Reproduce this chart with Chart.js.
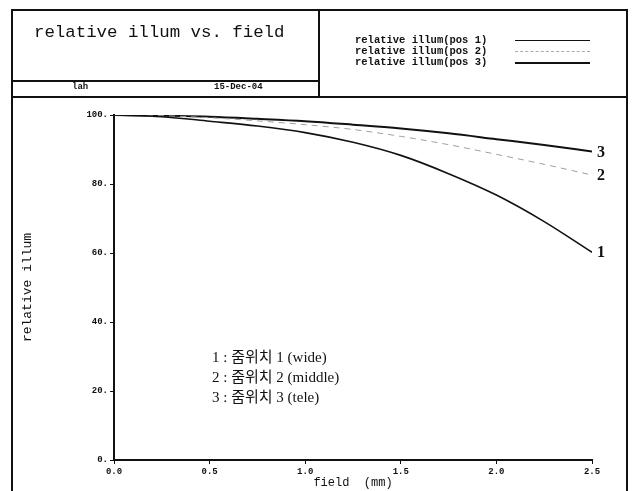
<!DOCTYPE html>
<html>
<head>
<meta charset="utf-8">
<script src="https://cdn.jsdelivr.net/npm/chart.js@4.4.1/dist/chart.umd.min.js"></script>
<style>
  html, body { margin:0; padding:0; background:#fff; }
  #wrap { position:relative; width:632px; height:491px; overflow:hidden; background:#fff; }
  #c { position:absolute; left:0; top:0; }
  .ln { position:absolute; background:#111; }
  .t { position:absolute; white-space:pre; color:#111; line-height:1; }
  .mono { font-family:"Liberation Mono","DejaVu Sans Mono",monospace; }
  .bold { font-weight:bold; }
  .serif { font-family:"Liberation Serif","Noto Sans CJK KR",serif; }
  .kr { font-family:"Liberation Serif","Noto Sans CJK KR",serif; }
</style>
</head>
<body>
<div id="wrap">
  <canvas id="c" width="632" height="491"></canvas>
  <!-- frames -->
  <div class="ln" style="left:11px;top:9px;width:617px;height:2px;"></div>
  <div class="ln" style="left:11px;top:9px;width:2px;height:490px;"></div>
  <div class="ln" style="left:626px;top:9px;width:2px;height:490px;"></div>
  <div class="ln" style="left:318px;top:9px;width:2px;height:89px;"></div>
  <div class="ln" style="left:11px;top:80px;width:308px;height:2px;"></div>
  <div class="ln" style="left:11px;top:96px;width:617px;height:2px;"></div>
  <!-- header texts -->
  <div class="t mono" id="title" style="left:34px;top:24px;font-size:17.4px;"></div>
  <div class="t mono bold" id="author" style="left:72px;top:83px;font-size:9px;"></div>
  <div class="t mono bold" id="date" style="left:214px;top:83px;font-size:9px;"></div>
  <div id="legend"></div>
  <div id="notes"></div>
  <div id="ends"></div>
</div>
<script>
// ---- data ----
const field = [0, 0.25, 0.5, 0.75, 1.0, 1.25, 1.5, 1.75, 2.0, 2.25, 2.5];
const illumPos1 = [100, 99.5, 98.2, 96.8, 94.9, 92.1, 88.3, 83.0, 76.8, 69.1, 60.2];
const illumPos2 = [100, 99.8, 99.2, 98.3, 97.2, 95.8, 93.8, 91.4, 88.6, 85.7, 82.6];
const illumPos3 = [100, 99.8, 99.5, 98.9, 98.2, 97.2, 96.1, 94.7, 93.0, 91.3, 89.4];
const seriesNames = ["relative illum(pos 1)", "relative illum(pos 2)", "relative illum(pos 3)"];
const endLabels = ["1", "2", "3"];
const noteLines = ["1 : 줌위치 1 (wide)", "2 : 줌위치 2 (middle)", "3 : 줌위치 3 (tele)"];
const titleText = "relative illum vs. field";
const authorText = "lah";
const dateText = "15-Dec-04";
const xTitle = "field  (mm)";
const yTitle = "relative illum";

document.getElementById('title').textContent = titleText;
document.getElementById('author').textContent = authorText;
document.getElementById('date').textContent = dateText;

// legend (header box)
const legStyles = [
  {w:1.5, c:'#111', dash:'solid'},
  {w:1, c:'#aaa', dash:'dashed'},
  {w:2, c:'#111', dash:'solid'}
];
const legTops = [35, 46, 57];
const leg = document.getElementById('legend');
seriesNames.forEach((n, i) => {
  const d = document.createElement('div');
  d.className = 't mono bold';
  d.style.cssText = `left:355px;top:${legTops[i]}px;font-size:10.5px;`;
  d.textContent = n;
  leg.appendChild(d);
  const l = document.createElement('div');
  l.style.cssText = `position:absolute;left:515px;top:${legTops[i]+5}px;width:75px;height:0;border-top:${legStyles[i].w}px ${legStyles[i].dash} ${legStyles[i].c};`;
  leg.appendChild(l);
});

// notes
const notes = document.getElementById('notes');
noteLines.forEach((s, i) => {
  const d = document.createElement('div');
  d.className = 't kr';
  d.style.cssText = `left:212px;top:${350 + i*20}px;font-size:15px;`;
  d.textContent = s;
  notes.appendChild(d);
});

const pts = (ys) => field.map((x, i) => ({x, y: ys[i]}));

const endLabelPlugin = {
  id: 'endLabels',
  afterRender(chart) {
    const ends = document.getElementById('ends');
    ends.innerHTML = '';
    chart.data.datasets.forEach((ds, i) => {
      const meta = chart.getDatasetMeta(i);
      const p = meta.data[meta.data.length - 1];
      const d = document.createElement('div');
      d.className = 't serif bold';
      d.style.cssText = `left:${p.x + 5}px;top:${p.y - 8}px;font-size:16px;`;
      d.textContent = endLabels[i];
      ends.appendChild(d);
    });
  }
};

new Chart(document.getElementById('c'), {
  type: 'line',
  data: {
    datasets: [
      {label: seriesNames[0], data: pts(illumPos1), borderColor:'#111', borderWidth:1.6, pointRadius:0, cubicInterpolationMode:'monotone', fill:false},
      {label: seriesNames[1], data: pts(illumPos2), borderColor:'#a0a0a0', borderWidth:1, borderDash:[6,5], pointRadius:0, cubicInterpolationMode:'monotone', fill:false},
      {label: seriesNames[2], data: pts(illumPos3), borderColor:'#111', borderWidth:2, pointRadius:0, cubicInterpolationMode:'monotone', fill:false}
    ]
  },
  options: {
    responsive: false,
    animation: false,
    events: [],
    layout: { padding: { left:0, right:40, top:115, bottom:0 } },
    plugins: { legend: {display:false}, tooltip: {enabled:false} },
    scales: {
      x: {
        type: 'linear', min: 0, max: 2.5,
        afterFit(s) { s.height = 31; },
        ticks: { stepSize: 0.5, callback: v => v.toFixed(1), color:'#111', padding:2, maxRotation:0,
                 font: {family:'Liberation Mono', size:9, weight:'bold'} },
        grid: { display:true, drawOnChartArea:false, drawTicks:true, tickLength:4, color:'#111' },
        border: { display:true, color:'#111', width:2 },
        title: { display:true, text: xTitle, color:'#111', padding:{top:0,bottom:1},
                 font: {family:'Liberation Mono', size:12} }
      },
      y: {
        min: 0, max: 100,
        afterFit(s) { s.width = 114; },
        ticks: { stepSize: 20, callback: v => v + '.', color:'#111', padding:2,
                 font: {family:'Liberation Mono', size:9, weight:'bold'} },
        grid: { display:true, drawOnChartArea:false, drawTicks:true, tickLength:4, color:'#111' },
        border: { display:true, color:'#111', width:2 },
        title: { display:true, text: yTitle, color:'#111', padding:{top:20,bottom:0},
                 font: {family:'Liberation Mono', size:13} }
      }
    }
  },
  plugins: [endLabelPlugin]
});
</script>
</body>
</html>
